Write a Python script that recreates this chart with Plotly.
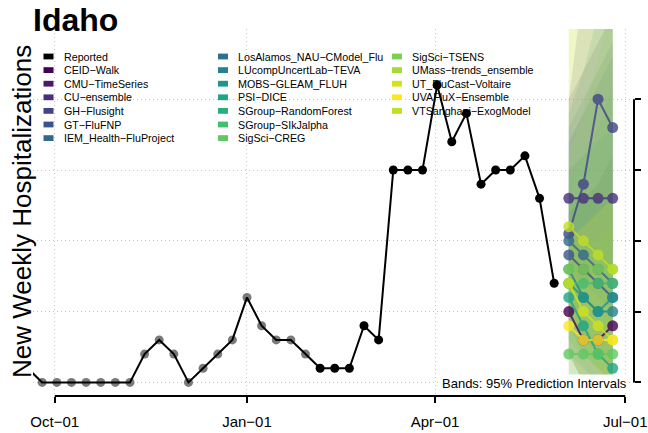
import plotly.graph_objects as go
import pandas as pd

# ---------------- data ----------------
reported = [1, 0, 0, 0, 0, 0, 0, 0, 2, 3, 2, 0, 1, 2, 3, 6, 4, 3, 3, 2, 1,
            1, 1, 4, 3, 15, 15, 15, 21, 17, 19, 14, 15, 15, 16, 13, 7]
report_dates = pd.date_range("2022-09-18", periods=len(reported), freq="7D")
n_grey = 20  # earliest points drawn in grey

forecast_dates = pd.date_range("2023-06-04", periods=4, freq="7D")

models = ["CEID-Walk", "CMU-TimeSeries", "CU-ensemble", "GH-Flusight", "GT-FluFNP",
          "IEM_Health-FluProject", "LosAlamos_NAU-CModel_Flu", "LUcompUncertLab-TEVA",
          "MOBS-GLEAM_FLUH", "PSI-DICE", "SGroup-RandomForest", "SGroup-SIkJalpha",
          "SigSci-CREG", "SigSci-TSENS", "UMass-trends_ensemble", "UT_FluCast-Voltaire",
          "UVAFluX-Ensemble", "VTSanghani-ExogModel"]
model_colors = ["#440154", "#481a6c", "#472f7d", "#414487", "#39568c",
                "#31688e", "#2c728e", "#26828e", "#1f968b", "#20a386", "#29af7f",
                "#44bf70", "#5ec962", "#7ad151", "#a5db36", "#d2e21b",
                "#fde725", "#c0df25"]

fc_median = {
    "CEID-Walk": [5, 3, 3, 4],
    "CU-ensemble": [13, 13, 13, 13],
    "GH-Flusight": [10.5, 14, 20, 18],
    "GT-FluFNP": [9, 8, 7, 6],
    "IEM_Health-FluProject": [10, 9, 8, 7],
    "LUcompUncertLab-TEVA": [8, 6, 5, 5],
    "MOBS-GLEAM_FLUH": [7, 6, 5, 6],
    "PSI-DICE": [6, 4, 2, 1],
    "SGroup-SIkJalpha": [7, 7, 7, 7],
    "SigSci-CREG": [2, 2, 2, 2],
    "SigSci-TSENS": [8, 8, 8, 8],
    "UT_FluCast-Voltaire": [7, 5, 4, 3],
    "UVAFluX-Ensemble": [4, 3, 3, 3],
    "VTSanghani-ExogModel": [11, 10, 9, 8],
}
fc_lower = {
    "CEID-Walk": [2, 0, 0, 0],
    "CU-ensemble": [8, 7, 6, 5],
    "GH-Flusight": [4, 6, 9, 8],
    "GT-FluFNP": [4, 2, 1, 0],
    "IEM_Health-FluProject": [5, 3, 2, 1],
    "LUcompUncertLab-TEVA": [2, 1, 0, 0],
    "MOBS-GLEAM_FLUH": [0, 0, 0, 0],
    "PSI-DICE": [2, 0, 0, 0],
    "SGroup-SIkJalpha": [3, 2, 1, 0],
    "SigSci-CREG": [0, 0, 0, 0],
    "SigSci-TSENS": [3, 2, 1, 0],
    "UT_FluCast-Voltaire": [2, 0, 0, 0],
    "UVAFluX-Ensemble": [1, 0, 0, 0],
    "VTSanghani-ExogModel": [5, 3, 1, 0],
}
fc_upper = {
    "CEID-Walk": [12, 13, 14, 16],
    "CU-ensemble": [20, 22, 24, 26],
    "GH-Flusight": [20, 28, 36, 34],
    "GT-FluFNP": [17, 19, 21, 23],
    "IEM_Health-FluProject": [18, 20, 22, 24],
    "LUcompUncertLab-TEVA": [15, 16, 17, 18],
    "MOBS-GLEAM_FLUH": [19, 22, 26, 29],
    "PSI-DICE": [13, 13, 13, 13],
    "SGroup-SIkJalpha": [14, 16, 18, 21],
    "SigSci-CREG": [8, 9, 10, 11],
    "SigSci-TSENS": [16, 19, 23, 27],
    "UT_FluCast-Voltaire": [26, 28, 30, 32],
    "UVAFluX-Ensemble": [10, 11, 12, 13],
    "VTSanghani-ExogModel": [25, 28, 31, 33],
}

x_tickvals = ["2022-10-01", "2023-01-01", "2023-04-01", "2023-07-01"]
x_ticktext = ["Oct\u221201", "Jan\u221201", "Apr\u221201", "Jul\u221201"]
y_tickvals = [0, 5, 10, 15, 20]

# ---------------- layout helpers ----------------
W, H = 648, 433
L, R, T, B = 33, 14, 29, 37
FONT = "Liberation Sans, Arial, Helvetica, sans-serif"


def px_x(X):
    return (X - L) / (W - L - R)


def px_y(Y):
    return (H - B - Y) / (H - T - B)


def rgba(hexc, a):
    hexc = hexc.lstrip("#")
    r, g, b = int(hexc[0:2], 16), int(hexc[2:4], 16), int(hexc[4:6], 16)
    return f"rgba({r},{g},{b},{a})"


def disp(name):
    return name.replace("-", "\u2212")


color_of = dict(zip(models, model_colors))

fig = go.Figure()

# prediction bands
for m in models:
    if m not in fc_upper:
        continue
    xs = list(forecast_dates) + list(forecast_dates[::-1])
    ys = fc_upper[m] + fc_lower[m][::-1]
    fig.add_trace(go.Scatter(x=xs, y=ys, fill="toself", mode="lines",
                             line=dict(width=0), fillcolor=rgba(color_of[m], 0.14),
                             hoverinfo="skip", showlegend=False))

# reported
mcols = ["#7a7a7a" if i < n_grey else "black" for i in range(len(reported))]
fig.add_trace(go.Scatter(x=report_dates, y=reported, mode="markers",
                         marker=dict(size=9, color=mcols), showlegend=False))
fig.add_trace(go.Scatter(x=report_dates, y=reported, mode="lines",
                         line=dict(color="black", width=2), showlegend=False))

# forecasts
for m in models:
    if m not in fc_median:
        continue
    fig.add_trace(go.Scatter(x=forecast_dates, y=fc_median[m], mode="lines+markers",
                             line=dict(color=color_of[m], width=2),
                             marker=dict(size=11, color=color_of[m]),
                             opacity=0.8, showlegend=False))

shapes = []
annotations = []

# axis lines (base-R style)
shapes.append(dict(type="line", xref="x", yref="paper", x0=x_tickvals[0], x1=x_tickvals[-1],
                   y0=0, y1=0, line=dict(color="black", width=2)))
shapes.append(dict(type="line", xref="paper", yref="y", x0=1, x1=1,
                   y0=y_tickvals[0], y1=y_tickvals[-1], line=dict(color="black", width=2)))

# manual legend (3 columns)
cols = [["Reported"] + models[0:6], models[6:13], models[13:18]]
box_x = [43.5, 218, 392]
text_x = [62, 236, 410]
for ci, col in enumerate(cols):
    for ri, name in enumerate(col):
        yc = 56.5 + 13.6 * ri
        c = "black" if name == "Reported" else color_of[name]
        shapes.append(dict(type="rect", xref="paper", yref="paper",
                           x0=px_x(box_x[ci]), x1=px_x(box_x[ci] + 10),
                           y0=px_y(yc + 2.9), y1=px_y(yc - 2.9),
                           fillcolor=c, line=dict(width=0)))
        annotations.append(dict(xref="paper", yref="paper", x=px_x(text_x[ci]), y=px_y(yc),
                                xanchor="left", yanchor="middle", showarrow=False,
                                text=disp(name), font=dict(size=10.7, color="black", family=FONT)))

# title
annotations.append(dict(xref="paper", yref="paper", x=px_x(31), y=px_y(20),
                        xanchor="left", yanchor="middle", showarrow=False,
                        text="<b>Idaho</b>", font=dict(size=32, color="black", family=FONT)))
# y title
annotations.append(dict(xref="paper", yref="paper", x=px_x(22), y=px_y(212),
                        xanchor="center", yanchor="middle", showarrow=False, textangle=-90,
                        text="New Weekly Hospitalizations",
                        font=dict(size=26, color="black", family=FONT)))
# bands note
annotations.append(dict(xref="paper", yref="paper", x=px_x(629), y=px_y(383),
                        xanchor="right", yanchor="middle", showarrow=False,
                        text="Bands: 95% Prediction Intervals", bgcolor="white", borderpad=1,
                        font=dict(size=13, color="black", family=FONT)))

grid = dict(showgrid=True, gridcolor="#c4c4c4", gridwidth=1, griddash="1px,3px")

fig.update_layout(
    width=W, height=H, autosize=False,
    margin=dict(l=L, r=R, t=T, b=B, autoexpand=False),
    paper_bgcolor="white", plot_bgcolor="white",
    font=dict(family=FONT, color="black"),
    showlegend=False,
    shapes=shapes, annotations=annotations,
    xaxis=dict(type="date", range=["2022-09-20 14:24", "2023-07-05 04:48"],
               tickmode="array", tickvals=x_tickvals, ticktext=x_ticktext,
               ticks="outside", ticklen=6, tickwidth=2, tickcolor="black",
               tickfont=dict(size=15, color="black", family=FONT),
               showline=False, zeroline=False, ticklabelstandoff=6, **grid),
    yaxis=dict(range=[-0.96, 24.96], side="right", tickmode="array", tickvals=y_tickvals,
               ticks="outside", ticklen=6, tickwidth=2, tickcolor="black", tickangle=-90,
               tickfont=dict(size=15, color="black", family=FONT),
               showline=False, zeroline=False, **grid),
)

fig.write_html("out.html", config={"displayModeBar": False},
               post_script="document.body.style.margin='0';document.body.style.overflow='hidden';")
